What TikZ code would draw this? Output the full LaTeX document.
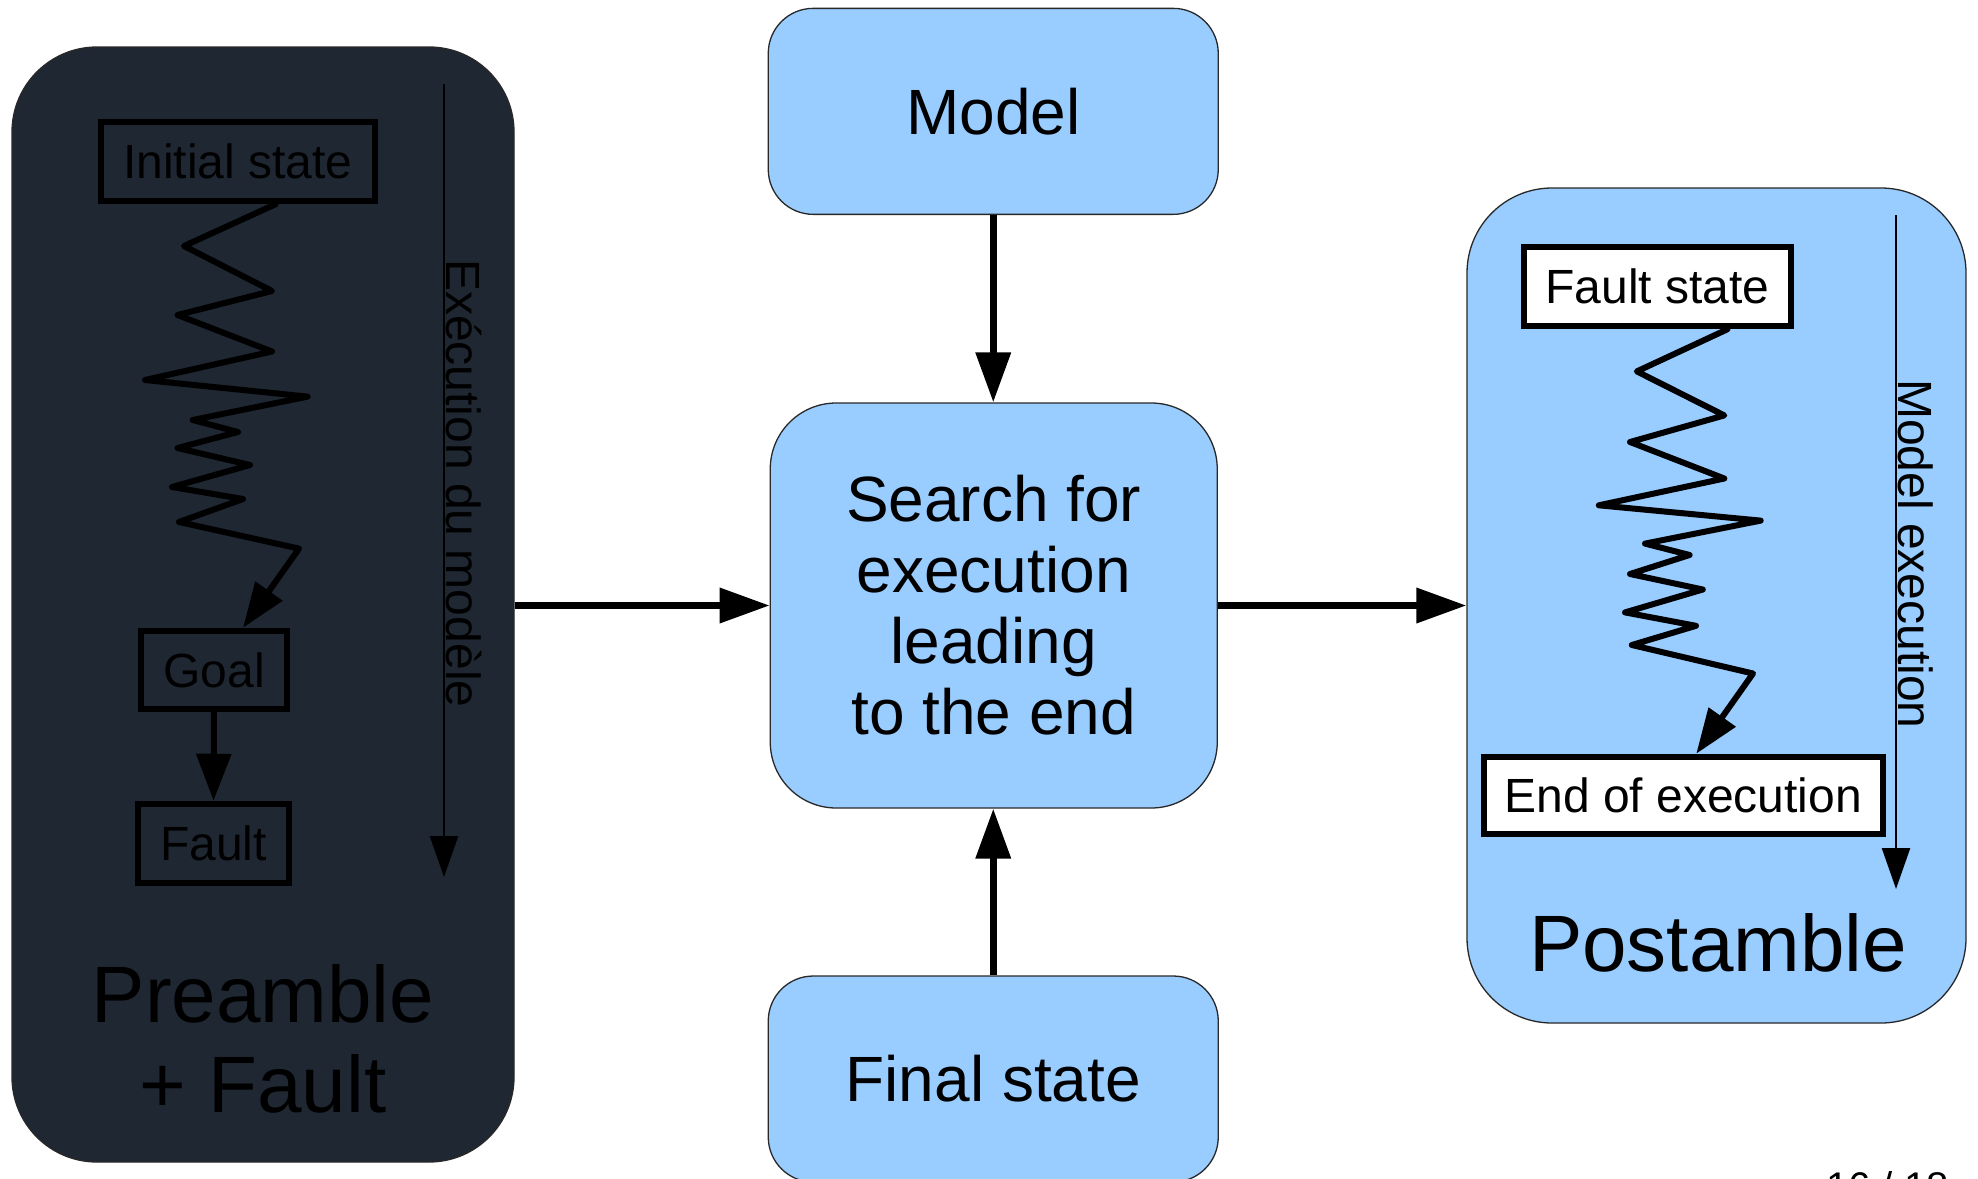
\documentclass[tikz,border=0pt]{standalone}
\usepackage{fontspec}
\setmainfont{Liberation Sans}
\usetikzlibrary{arrows.meta}

\definecolor{paneldark}{RGB}{31,39,50}
\definecolor{skyfill}{RGB}{153,204,255}
\definecolor{rimgray}{RGB}{40,40,40}

\begin{document}
\begin{tikzpicture}[x=1pt,y=-1pt,
  panel/.style={draw=rimgray, line width=1.3pt, rounded corners=85pt, inner sep=0pt},
  roundbox/.style={draw=rimgray, fill=skyfill, line width=1.3pt, inner sep=0pt,
    align=center, font=\fontsize{64}{71}\selectfont},
  statebox/.style={draw=black, line width=6.5pt, inner sep=0pt,
    font=\fontsize{48}{56}\selectfont},
  biglabel/.style={inner sep=0pt, align=center, font=\fontsize{80}{90}\selectfont},
  zig/.style={line width=6pt, line join=round, line cap=round},
  zigtip/.style={-{Triangle[length=45pt,width=32pt]}},
  flow/.style={line width=7pt, -{Triangle[length=50pt,width=34pt]}},
  timeline/.style={line width=2.5pt, -{Triangle[length=41pt,width=28pt]}},
  timelabel/.style={rotate=-90, anchor=base west, inner sep=0pt,
    font=\fontsize{48}{56}\selectfont}
]
\fill[white] (0,0) rectangle (1978,1178);
\useasboundingbox (0,0) rectangle (1978,1178);

% ---- left panel: preamble + fault ----
\node[panel, fill=paneldark, minimum width=502pt, minimum height=1115pt] (pre) at (263,604.5) {};
\node[statebox, minimum width=274pt, minimum height=79pt] (init) at (238,161.5) {Initial state};
\node[statebox, minimum width=146pt, minimum height=78pt] (goal) at (214,670) {Goal};
\node[statebox, minimum width=151pt, minimum height=79pt] (faultL) at (213.5,843.5) {Fault};
\node[biglabel] (prelabel) at (263,1039) {Preamble\\+ Fault};

\coordinate (zA) at ([xshift=37.5pt]init.south);
\coordinate (zB) at ([xshift=29pt]goal.north);
\draw[zig, zigtip] (zA) -- (184,246) -- (272,291) -- (177.5,315) -- (272,351.5)
  -- (145,380) -- (307.6,396.6) -- (192.7,420) -- (238,432) -- (177.5,448)
  -- (250,465) -- (172,487) -- (243,499) -- (179,522) -- (299,548.6) -- (zB);
\draw[zig, -{Triangle[length=47pt,width=34pt]}] (goal.south) -- (faultL.north);

\coordinate (tlA) at (444,84);
\coordinate (tlB) at (444,877);
\draw[timeline] (tlA) -- (tlB);
\node[timelabel] (tlAlabel) at (446.5,259) {Exécution du modèle};

% ---- centre column ----
\node[roundbox, rounded corners=45pt, minimum width=450pt, minimum height=206pt] (model) at (993.25,111.35) {Model};
\node[roundbox, rounded corners=66pt, minimum width=447pt, minimum height=405pt] (search) at (993.75,605.5)
  {Search for\\execution\\leading\\to the end};
\node[roundbox, rounded corners=45pt, minimum width=450pt, minimum height=206pt] (final) at (993.25,1079) {Final state};

% ---- right panel: postamble ----
\node[panel, fill=skyfill, minimum width=499pt, minimum height=835pt] (post) at (1716.5,605.5) {};
\node[statebox, fill=white, minimum width=267pt, minimum height=79pt] (fstate) at (1657.5,286.5) {Fault state};
\node[statebox, fill=white, minimum width=399pt, minimum height=77pt] (endex) at (1683.25,795.5) {End of execution};
\node[biglabel, anchor=base] (postlabel) at (1718,971) {Postamble};

\coordinate (zC) at ([xshift=70pt]fstate.south);
\coordinate (zD) at ([xshift=13pt]endex.north);
\draw[zig, zigtip] (zC) -- (1636.8,371.4) -- (1724.3,415.4) -- (1630,442) -- (1724.3,478.5)
  -- (1598.8,505.3) -- (1760.7,520.6) -- (1645,543.6) -- (1689.6,555) -- (1630,574)
  -- (1702.8,589.5) -- (1625,612.4) -- (1696,625.8) -- (1631.8,645) -- (1753,673.5) -- (zD);

\coordinate (tlC) at (1896,215);
\coordinate (tlD) at (1896,889);
\draw[timeline] (tlC) -- (tlD);
\node[timelabel] (tlClabel) at (1898.5,379) {Model execution};

% ---- main flow ----
\draw[flow] (pre.east |- search.west) -- (search.west);
\draw[flow] (search.east) -- (post.west |- search.east);
\draw[flow] (model.south) -- (model.south |- search.north);
\draw[flow] (final.north) -- (final.north |- search.south);

% ---- slide number, running off the lower edge ----
\node[anchor=base west, inner sep=0pt, font=\fontsize{40}{48}\selectfont] (pageno) at (1826,1200) {16 / 18};
\end{tikzpicture}
\end{document}
